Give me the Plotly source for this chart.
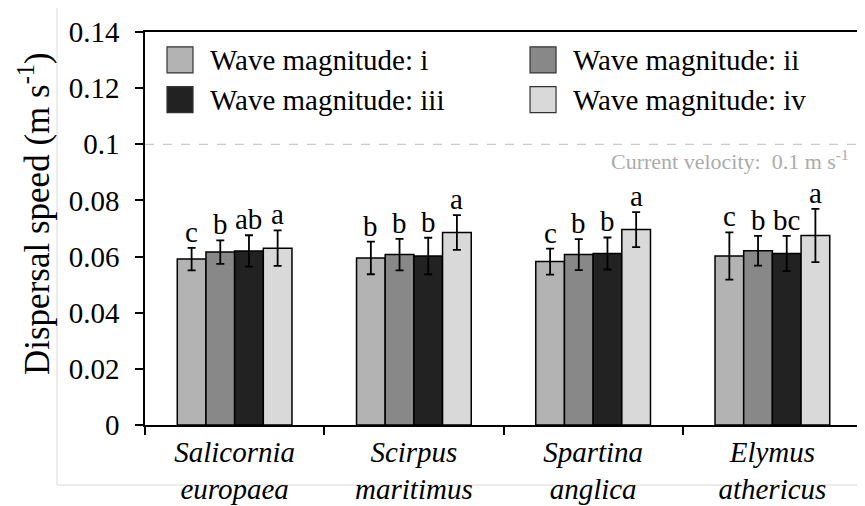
import plotly.graph_objects as go

categories = ["<i>Salicornia</i><br><i>europaea</i>", "<i>Scirpus</i><br><i>maritimus</i>",
              "<i>Spartina</i><br><i>anglica</i>", "<i>Elymus</i><br><i>athericus</i>"]
series_names = ["Wave magnitude: i", "Wave magnitude: ii", "Wave magnitude: iii", "Wave magnitude: iv"]
series_colors = ["#b3b3b3", "#888888", "#222222", "#d9d9d9"]

means_i = [0.0591, 0.0595, 0.0582, 0.0602]
means_ii = [0.0616, 0.0607, 0.0607, 0.0621]
means_iii = [0.0620, 0.0602, 0.0611, 0.0611]
means_iv = [0.0630, 0.0686, 0.0696, 0.0675]

err_i = [0.0040, 0.0058, 0.0046, 0.0084]
err_ii = [0.0042, 0.0056, 0.0055, 0.0053]
err_iii = [0.0056, 0.0065, 0.0057, 0.0063]
err_iv = [0.0063, 0.0062, 0.0062, 0.0095]

letters_i = ["c", "b", "c", "c"]
letters_ii = ["b", "b", "b", "b"]
letters_iii = ["ab", "b", "b", "bc"]
letters_iv = ["a", "a", "a", "a"]

current_velocity = 0.1
y_ticks = [0, 0.02, 0.04, 0.06, 0.08, 0.1, 0.12, 0.14]
y_tick_text = ["0", "0.02", "0.04", "0.06", "0.08", "0.1", "0.12", "0.14"]

means = [means_i, means_ii, means_iii, means_iv]
errs = [err_i, err_ii, err_iii, err_iv]
letters = [letters_i, letters_ii, letters_iii, letters_iv]

FONT = "Liberation Serif"
FS = 29
BARGAP = 0.36

fig = go.Figure()
for name, color, m, e in zip(series_names, series_colors, means, errs):
    fig.add_trace(go.Bar(
        x=categories, y=m, name=name, showlegend=False,
        marker=dict(color=color, line=dict(color="#000000", width=1.5)),
        error_y=dict(type="data", array=e, visible=True, color="#000000", thickness=1.8, width=4),
    ))

annotations = []
n = len(series_names)
bw = (1 - BARGAP) / n
for j in range(n):
    for i in range(len(categories)):
        annotations.append(dict(
            x=i + (j - (n - 1) / 2) * bw, y=means[j][i] + errs[j][i],
            xref="x", yref="y", text=letters[j][i], showarrow=False,
            yanchor="bottom", yshift=-2, font=dict(family=FONT, size=FS, color="#000000"),
        ))

# manual legend (2 x 2)
shapes = []
leg_cols = [0.0307, 0.537]
leg_rows = [0.929, 0.828]
sw = 26 / 717
sh = 26 / 393
for k, (name, color) in enumerate(zip(series_names, series_colors)):
    cx = leg_cols[k % 2]
    cy = leg_rows[k // 2]
    shapes.append(dict(type="rect", xref="paper", yref="paper",
                       x0=cx, x1=cx + sw, y0=cy - sh / 2, y1=cy + sh / 2,
                       fillcolor=color, line=dict(color="#333333", width=1.2)))
    annotations.append(dict(x=cx + sw + 15 / 717, y=cy, xref="paper", yref="paper",
                            text=name, showarrow=False, xanchor="left", yanchor="middle",
                            font=dict(family=FONT, size=FS, color="#000000")))

# current velocity reference line
shapes.append(dict(type="line", xref="paper", yref="y", x0=0, x1=1,
                   y0=current_velocity, y1=current_velocity,
                   line=dict(color="#bdbdbd", width=1, dash="dash")))
annotations.append(dict(x=0.985, y=current_velocity, xref="paper", yref="y",
                        text="Current velocity:  0.1 m s<sup>-1</sup>", showarrow=False,
                        xanchor="right", yanchor="top", yshift=0,
                        font=dict(family=FONT, size=22, color="#ababab")))

# outer light frame
shapes.append(dict(type="rect", xref="paper", yref="paper",
                   x0=(57 - 145) / 717, x1=(880 - 145) / 717,
                   y0=(425 - 485) / 393, y1=(425 - 6) / 393,
                   line=dict(color="#d9d9d9", width=1), fillcolor="rgba(0,0,0,0)", layer="below"))

# y axis title
annotations.append(dict(x=(34 - 145) / 717, y=(425 - 214) / 393, xref="paper", yref="paper",
                        text="Dispersal speed (m s<sup>-1</sup>)", showarrow=False, textangle=-90,
                        xanchor="center", yanchor="middle",
                        font=dict(family=FONT, size=35, color="#000000")))

fig.update_layout(
    width=857, height=498,
    margin=dict(l=137, r=3, t=24, b=81, autoexpand=False),
    barmode="group", bargap=BARGAP, bargroupgap=0,
    paper_bgcolor="#ffffff", plot_bgcolor="#ffffff",
    font=dict(family=FONT, size=FS, color="#000000"),
    annotations=annotations, shapes=shapes,
    xaxis=dict(type="category", tickson="boundaries", ticks="outside", ticklen=8,
               tickwidth=1.5, tickcolor="#000000", showline=True, linecolor="#000000",
               linewidth=1.5, mirror=True, showgrid=False, zeroline=False,
               range=[-0.5, 3.5], tickfont=dict(family=FONT, size=FS)),
    yaxis=dict(range=[0, 0.14], tickvals=y_ticks, ticktext=y_tick_text, ticks="outside",
               ticklen=8, tickwidth=1.5, tickcolor="#000000", showline=True,
               linecolor="#000000", linewidth=1.5, mirror=True, showgrid=False,
               zeroline=False, ticklabelstandoff=10, tickfont=dict(family=FONT, size=FS)),
)

fig.write_html("out.html")
